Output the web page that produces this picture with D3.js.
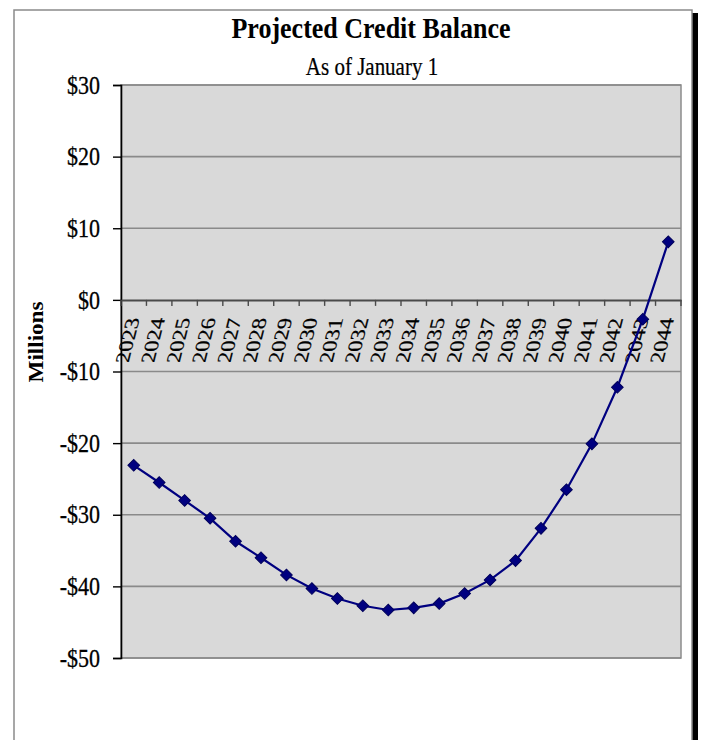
<!DOCTYPE html>
<html>
<head>
<meta charset="utf-8">
<script src="https://cdn.jsdelivr.net/npm/d3@7/dist/d3.min.js"></script>
<style>
  html, body { margin: 0; padding: 0; background: #ffffff; }
  svg { display: block; }
  text { font-family: "Liberation Serif", "Times New Roman", serif; fill: #000; }
</style>
</head>
<body>
<svg id="chart" width="702" height="740"></svg>
<script>
// ---- data ----
const years = ["2023","2024","2025","2026","2027","2028","2029","2030","2031","2032","2033",
               "2034","2035","2036","2037","2038","2039","2040","2041","2042","2043","2044"];
const balances = [-23.1, -25.5, -28.0, -30.5, -33.7, -36.0, -38.4, -40.3, -41.7, -42.7, -43.3,
                  -43.0, -42.4, -41.0, -39.1, -36.4, -31.9, -26.5, -20.1, -12.2, -2.7, 8.1];
const yTickValues = [30, 20, 10, 0, -10, -20, -30, -40, -50];
const titleText = "Projected Credit Balance";
const subtitleText = "As of January 1";
const yAxisTitle = "Millions";

// ---- layout ----
const W = 702, H = 740;
const plot = { left: 121, right: 681, top: 85, bottom: 658 };
const FONT = "Liberation Serif, Times New Roman, serif";

const svg = d3.select("#chart");

// outer frame with shadow
svg.append("rect").attr("x", 692).attr("y", 13).attr("width", 6).attr("height", H)
  .attr("fill", "#000");
svg.append("rect").attr("x", 14).attr("y", 10).attr("width", 678).attr("height", H + 10)
  .attr("fill", "#fff").attr("stroke", "#8a8a8a").attr("stroke-width", 1.5);

// scales
const x = d3.scaleBand().domain(years).range([plot.left, plot.right]).padding(0);
const y = d3.scaleLinear().domain([-50, 30]).range([plot.bottom, plot.top]);

// plot background
svg.append("rect")
  .attr("x", plot.left).attr("y", plot.top)
  .attr("width", plot.right - plot.left).attr("height", plot.bottom - plot.top)
  .attr("fill", "#d9d9d9").attr("stroke", "#8c8c8c").attr("stroke-width", 1.5);

// gridlines
svg.append("g").selectAll("line")
  .data(yTickValues.filter(v => v !== 0))
  .join("line")
  .attr("x1", plot.left).attr("x2", plot.right)
  .attr("y1", d => y(d)).attr("y2", d => y(d))
  .attr("stroke", "#8a8a8a").attr("stroke-width", 1.6);

// y axis
const yAxis = svg.append("g")
  .attr("transform", `translate(${plot.left},0)`)
  .call(d3.axisLeft(y).tickValues(yTickValues).tickSize(8).tickPadding(13)
        .tickFormat(d => d < 0 ? "-$" + (-d) : "$" + d));
yAxis.select(".domain").attr("stroke", "#000").attr("stroke-width", 1.6);
yAxis.selectAll(".tick line").attr("stroke", "#000").attr("stroke-width", 1.4);
yAxis.selectAll(".tick text")
  .attr("font-family", FONT)
  .attr("font-size", 22).attr("fill", "#000")
  .attr("stroke", "#000").attr("stroke-width", 0.25)
  .attr("dy", "0.33em")
  .attr("transform", "scale(1,1.13)");

// x axis at zero
const y0 = y(0);
const xAxis = svg.append("g")
  .attr("transform", `translate(0,${y0})`)
  .call(d3.axisBottom(x).tickSize(0).tickSizeOuter(0));
xAxis.select(".domain").attr("stroke", "#4a4a4a").attr("stroke-width", 2);
xAxis.selectAll(".tick text")
  .attr("font-family", FONT)
  .attr("font-size", 20).attr("fill", "#000")
  .attr("stroke", "#000").attr("stroke-width", 0.2)
  .attr("x", 0).attr("y", 0).attr("dy", 0)
  .attr("text-anchor", "end")
  .attr("transform", "matrix(0.28,-1.13,1,0,6,18)");

// boundary tick marks on x axis
const boundaries = years.map(d => x(d)).concat([x.range()[1]]);
svg.append("g").selectAll("line")
  .data(boundaries)
  .join("line")
  .attr("x1", d => d).attr("x2", d => d)
  .attr("y1", y0).attr("y2", y0 + 6)
  .attr("stroke", "#4a4a4a").attr("stroke-width", 1.4);

// line series
const pts = years.map((yr, i) => ({ yr, v: balances[i] }));
const line = d3.line().x(d => x(d.yr) + x.bandwidth() / 2).y(d => y(d.v));
svg.append("path").datum(pts)
  .attr("d", line).attr("fill", "none")
  .attr("stroke", "#000080").attr("stroke-width", 2.2);

// markers (diamonds)
const diamond = d3.symbol().type(d3.symbolSquare).size(68);
svg.append("g").selectAll("path")
  .data(pts).join("path")
  .attr("d", diamond)
  .attr("transform", d => `translate(${x(d.yr) + x.bandwidth() / 2},${y(d.v)}) rotate(45)`)
  .attr("fill", "#000080").attr("stroke", "#00005a").attr("stroke-width", 1);

// titles
svg.append("text")
  .attr("transform", "translate(371,38) scale(1,1.12)")
  .attr("text-anchor", "middle").attr("font-size", 26).attr("font-weight", "bold")
  .text(titleText);
svg.append("text")
  .attr("transform", "translate(372,75) scale(1,1.15)")
  .attr("text-anchor", "middle").attr("font-size", 21)
  .attr("stroke", "#000").attr("stroke-width", 0.2)
  .text(subtitleText);

// y axis title
svg.append("text")
  .attr("transform", "translate(43,342) rotate(-90) scale(1.1,1)")
  .attr("text-anchor", "middle").attr("font-size", 21).attr("font-weight", "bold")
  .text(yAxisTitle);
</script>
</body>
</html>
